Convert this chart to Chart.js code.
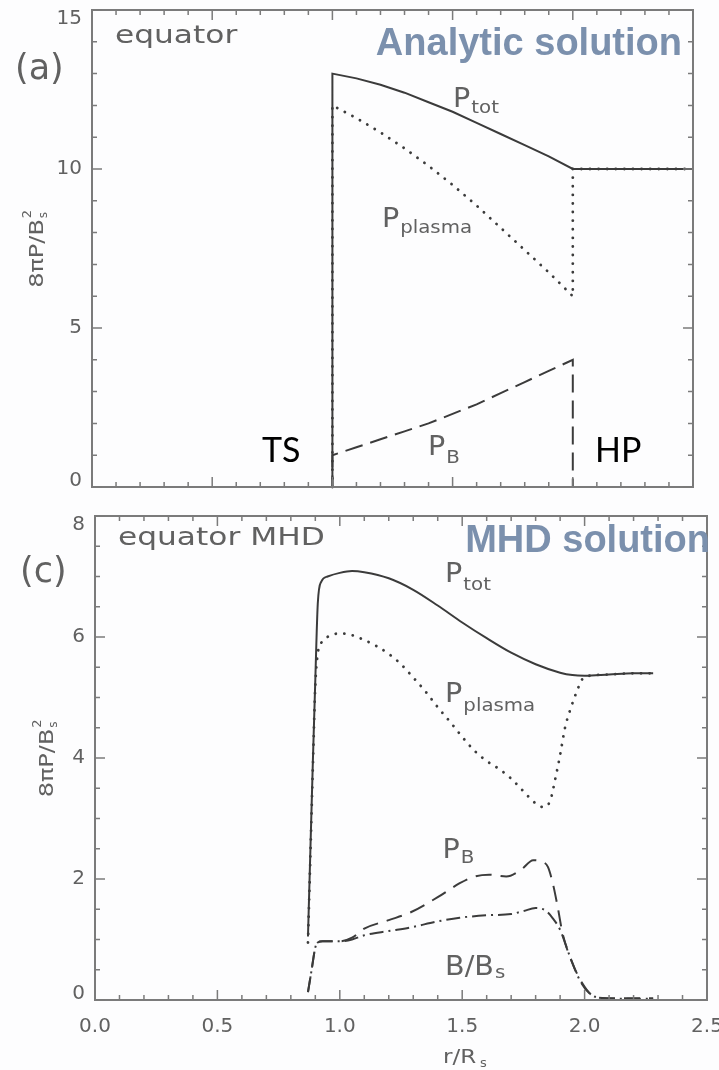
<!DOCTYPE html>
<html lang="en">
<head>
<meta charset="UTF-8">
<title>Pressure across the heliosheath</title>
<script src="https://cdn.jsdelivr.net/npm/chart.js"></script>
<style>
  html, body { margin: 0; padding: 0; background: #ffffff; }
  #wrap { position: relative; width: 719px; height: 1070px; overflow: hidden; background: #fdfdfe; }
  canvas { position: absolute; left: 0; }
  #topPanel { top: 0; }
  #bottomPanel { top: 500px; }
</style>
</head>
<body>
<div id="wrap">
  <canvas id="topPanel" width="719" height="500"></canvas>
  <canvas id="bottomPanel" width="719" height="570"></canvas>
</div>
<script>
// (a) analytic solution along the equator
const anaTotR    = [0, 1.0, 1.0, 1.1, 1.2, 1.3, 1.4, 1.5, 1.6, 1.7, 1.8, 1.9, 2.0, 2.5];
const anaTotP    = [0, 0, 13.0, 12.85, 12.65, 12.4, 12.1, 11.8, 11.45, 11.1, 10.75, 10.4, 10.0, 10.0];
const anaPlasmaR = [1.0, 1.0, 1.1, 1.2, 1.3, 1.4, 1.5, 1.6, 1.7, 1.8, 1.9, 2.0, 2.0, 2.5];
const anaPlasmaP = [0, 12.0, 11.6, 11.15, 10.65, 10.1, 9.5, 8.85, 8.15, 7.45, 6.75, 6.0, 10.0, 10.0];
const anaMagR    = [0, 1.0, 1.0, 1.1, 1.2, 1.3, 1.4, 1.5, 1.6, 1.7, 1.8, 1.9, 2.0, 2.0, 2.5];
const anaMagP    = [0, 0, 1.0, 1.25, 1.5, 1.75, 2.0, 2.3, 2.6, 2.95, 3.3, 3.65, 4.0, 0, 0];

// (c) MHD solution along the equator
const mhdTotR    = [0.87, 0.88, 0.89, 0.90, 0.91, 0.925, 0.95, 1.0, 1.05, 1.1, 1.2, 1.3, 1.4, 1.5, 1.6, 1.7, 1.8, 1.9, 1.95, 2.0, 2.1, 2.2, 2.28];
const mhdTotP    = [1.05, 2.5, 3.95, 5.3, 6.55, 6.92, 7.0, 7.06, 7.09, 7.07, 6.97, 6.78, 6.52, 6.24, 5.98, 5.74, 5.55, 5.41, 5.37, 5.36, 5.38, 5.4, 5.4];
const mhdPlasmaR = [0.87, 0.88, 0.89, 0.90, 0.91, 0.93, 0.96, 1.0, 1.05, 1.1, 1.15, 1.2, 1.25, 1.3, 1.35, 1.4, 1.45, 1.5, 1.55, 1.6, 1.65, 1.7, 1.75, 1.8, 1.83, 1.86, 1.88, 1.9, 1.92, 1.94, 1.97, 1.99, 2.02, 2.1, 2.2, 2.28];
const mhdPlasmaP = [0.95, 2.4, 3.85, 5.2, 5.73, 5.93, 6.02, 6.06, 6.03, 5.95, 5.85, 5.72, 5.55, 5.33, 5.1, 4.84, 4.6, 4.35, 4.12, 3.95, 3.82, 3.66, 3.45, 3.25, 3.19, 3.3, 3.65, 4.05, 4.5, 4.78, 5.12, 5.3, 5.36, 5.38, 5.4, 5.4];
const mhdMagR    = [0.87, 0.885, 0.9, 0.91, 0.93, 1.0, 1.05, 1.1, 1.2, 1.29, 1.4, 1.49, 1.55, 1.61, 1.68, 1.74, 1.79, 1.83, 1.85, 1.87, 1.89, 1.91, 1.95, 1.99, 2.03, 2.09, 2.2, 2.28];
const mhdMagP    = [0.13, 0.5, 0.87, 0.95, 0.97, 0.97, 1.03, 1.18, 1.32, 1.45, 1.7, 1.93, 2.04, 2.07, 2.04, 2.15, 2.31, 2.28, 2.2, 1.93, 1.54, 1.1, 0.61, 0.28, 0.08, 0.03, 0.03, 0.03];
const mhdFieldR  = [0.87, 0.885, 0.9, 0.91, 0.93, 1.0, 1.05, 1.1, 1.2, 1.29, 1.4, 1.49, 1.6, 1.7, 1.75, 1.8, 1.84, 1.87, 1.9, 1.94, 1.98, 2.02, 2.075, 2.2, 2.28];
const mhdFieldB  = [0.13, 0.5, 0.87, 0.95, 0.97, 0.97, 1.0, 1.07, 1.14, 1.2, 1.3, 1.36, 1.4, 1.42, 1.47, 1.52, 1.48, 1.35, 1.16, 0.72, 0.33, 0.11, 0.03, 0.02, 0.02];

// axis ticks
const rTicks   = [0, 0.5, 1.0, 1.5, 2.0, 2.5];
const anaTicks = [0, 5, 10, 15];
const mhdTicks = [0, 2, 4, 6, 8];

const INK = '#3b3b3b';
const IDL_TEXT = '#616161';
const FONT = '"DejaVu Sans", sans-serif';

const SOLID = [];
const DOTTED = [0.1, 8.5];
const DASHED = [18, 8];
const DASHED_MHD = [16, 9];
const DASH_DOT = [14, 5, 2, 5];

function putText(ctx, str, x, y, size, opt = {}) {
  ctx.save();
  ctx.font = `${opt.weight || 'normal'} ${size}px ${opt.family || FONT}`;
  ctx.fillStyle = opt.color || IDL_TEXT;
  ctx.textBaseline = opt.baseline || 'alphabetic';
  const sx = opt.stretch || 1;
  const w = ctx.measureText(str).width * sx;
  let x0 = x;
  if (opt.align === 'center') x0 = x - w / 2;
  else if (opt.align === 'right') x0 = x - w;
  ctx.translate(x0, y);
  ctx.scale(sx, 1);
  ctx.fillText(str, 0, 0);
  ctx.restore();
  return w;
}

// P with a subscript, e.g. P_tot
function putSub(ctx, main, sub, x, y, big, small, drop) {
  const w = putText(ctx, main, x, y, big, { stretch: 1.1 });
  putText(ctx, sub, x + w + 1, y + drop, small, { stretch: 1.1 });
}

// rotated y title: 8πP/B_s^2
function putYTitle(ctx, x, cy) {
  ctx.save();
  ctx.translate(x, cy);
  ctx.rotate(-Math.PI / 2);
  ctx.font = `20px ${FONT}`;
  const main = '8\u03c0P/B';
  const sx = 1.2;
  const w = ctx.measureText(main).width * sx;
  const total = w + 10;
  putText(ctx, main, -total / 2, 0, 20, { stretch: sx });
  putText(ctx, 's', -total / 2 + w + 1, 4, 12);
  putText(ctx, '2', -total / 2 + w + 1, -12, 13);
  ctx.restore();
}

const panelFrame = {
  id: 'panelFrame',
  afterDatasetsDraw(chart, args, o) {
    const ctx = chart.ctx, a = chart.chartArea;
    const xs = chart.scales.x, ys = chart.scales.y;
    ctx.save();
    ctx.strokeStyle = '#7b7b7b';
    ctx.lineWidth = 2;
    ctx.strokeRect(a.left, a.top, a.right - a.left, a.bottom - a.top);

    ctx.lineWidth = 1.5;
    ctx.beginPath();
    const nx = Math.round((xs.max - xs.min) / o.minorX);
    for (let i = 0; i <= nx; i++) {
      const v = xs.min + i * o.minorX;
      const px = xs.getPixelForValue(v);
      const len = rTicks.some(t => Math.abs(t - v) < 1e-6) ? 10 : 5;
      ctx.moveTo(px, a.bottom); ctx.lineTo(px, a.bottom - len);
      ctx.moveTo(px, a.top); ctx.lineTo(px, a.top + len);
    }
    const ny = Math.round((ys.max - ys.min) / o.minorY);
    for (let i = 0; i <= ny; i++) {
      const v = ys.min + i * o.minorY;
      const py = ys.getPixelForValue(v);
      const len = o.yTicks.some(t => Math.abs(t - v) < 1e-6) ? 10 : 5;
      ctx.moveTo(a.left, py); ctx.lineTo(a.left + len, py);
      ctx.moveTo(a.right, py); ctx.lineTo(a.right - len, py);
    }
    ctx.stroke();
    ctx.restore();

    // y tick labels, kept inside the axis span like IDL does
    o.yTicks.forEach(t => {
      const py = Math.min(Math.max(ys.getPixelForValue(t), a.top + 9), a.bottom - 6);
      putText(ctx, String(t), a.left - 10, py, 20, { align: 'right', baseline: 'middle' });
    });
    if (o.xLabels) {
      rTicks.forEach(t => {
        putText(ctx, t.toFixed(1), xs.getPixelForValue(t), a.bottom + 27, 20, { align: 'center', baseline: 'middle' });
      });
      putText(ctx, 'r/R', a.left + 348, a.bottom + 63, 20, { stretch: 1.15 });
      putText(ctx, 's', a.left + 385, a.bottom + 67, 13);
    }

    putYTitle(ctx, o.yTitleX, ys.getPixelForValue(o.yTitleAt));
    putText(ctx, o.panel, a.left + o.panelDx, a.top + o.panelDy, 35);
    putText(ctx, o.region, a.left + 23, a.top + o.regionDy, 25, { stretch: 1.25 });
    putText(ctx, o.heading, a.right + o.headingDx, a.top + o.headingDy, 38,
      { align: 'right', weight: 'bold', family: '"Liberation Sans", Arial, sans-serif', color: '#7b90ad' });

    o.curveLabels.forEach(l => {
      putSub(ctx, l.main, l.sub, xs.getPixelForValue(l.r), ys.getPixelForValue(l.v), 26, 18, l.drop);
    });
    (o.marks || []).forEach(m => {
      putText(ctx, m.text, xs.getPixelForValue(m.r), ys.getPixelForValue(m.v), 34,
        { family: 'Lato, "Open Sans", sans-serif', color: '#000000' });
    });
  }
};

function series(rs, vs, dash, smooth) {
  const dotted = dash === DOTTED;
  return {
    data: rs.map((r, i) => ({ x: r, y: vs[i] })),
    borderColor: INK,
    borderWidth: dotted ? 2.8 : 2,
    borderDash: dash,
    borderCapStyle: dotted ? 'round' : 'butt',
    pointRadius: 0,
    fill: false,
    tension: 0,
    cubicInterpolationMode: smooth ? 'monotone' : 'default',
    clip: false
  };
}

function baseOptions(yMax, yWidth, xHeight, padding, frame) {
  return {
    responsive: false,
    animation: false,
    events: [],
    layout: { padding: padding },
    plugins: { legend: { display: false }, tooltip: { enabled: false }, panelFrame: frame },
    scales: {
      x: {
        type: 'linear', min: 0, max: 2.5,
        ticks: { display: false }, grid: { display: false }, border: { display: false },
        afterFit(s) { s.height = xHeight; }
      },
      y: {
        type: 'linear', min: 0, max: yMax,
        ticks: { display: false }, grid: { display: false }, border: { display: false },
        afterFit(s) { s.width = yWidth; }
      }
    }
  };
}

new Chart(document.getElementById('topPanel'), {
  type: 'line',
  data: {
    datasets: [
      series(anaTotR, anaTotP, SOLID, false),
      series(anaPlasmaR, anaPlasmaP, DOTTED, false),
      series(anaMagR, anaMagP, DASHED, false)
    ]
  },
  options: baseOptions(15, 92, 13, { top: 10, right: 26, left: 0, bottom: 0 }, {
    minorX: 0.1, minorY: 1, yTicks: anaTicks, xLabels: false,
    yTitleX: 43, yTitleAt: 7.5,
    panel: '(a)', panelDx: -77, panelDy: 69,
    region: 'equator', regionDy: 33,
    heading: 'Analytic solution', headingDx: -11, headingDy: 45,
    curveLabels: [
      { main: 'P', sub: 'tot', r: 1.502, v: 11.95, drop: 6 },
      { main: 'P', sub: 'plasma', r: 1.206, v: 8.18, drop: 6 },
      { main: 'P', sub: 'B', r: 1.398, v: 1.0, drop: 8 }
    ],
    marks: [
      { text: 'TS', r: 0.707, v: 0.79 },
      { text: 'HP', r: 2.092, v: 0.79 }
    ]
  }),
  plugins: [panelFrame]
});

new Chart(document.getElementById('bottomPanel'), {
  type: 'line',
  data: {
    datasets: [
      series(mhdTotR, mhdTotP, SOLID, true),
      series(mhdPlasmaR, mhdPlasmaP, DOTTED, true),
      series(mhdMagR, mhdMagP, DASHED_MHD, true),
      series(mhdFieldR, mhdFieldB, DASH_DOT, true)
    ]
  },
  options: baseOptions(8, 95, 70, { top: 16, right: 12, left: 0, bottom: 0 }, {
    minorX: 0.1, minorY: 0.5, yTicks: mhdTicks, xLabels: true,
    yTitleX: 53, yTitleAt: 4,
    panel: '(c)', panelDx: -75, panelDy: 66,
    region: 'equator MHD', regionDy: 29,
    heading: 'MHD solution', headingDx: 3, headingDy: 36,
    curveLabels: [
      { main: 'P', sub: 'tot', r: 1.43, v: 6.91, drop: 8 },
      { main: 'P', sub: 'plasma', r: 1.43, v: 4.93, drop: 9 },
      { main: 'P', sub: 'B', r: 1.42, v: 2.35, drop: 5 },
      { main: 'B/B', sub: 's', r: 1.43, v: 0.41, drop: 3 }
    ]
  }),
  plugins: [panelFrame]
});
</script>
</body>
</html>
